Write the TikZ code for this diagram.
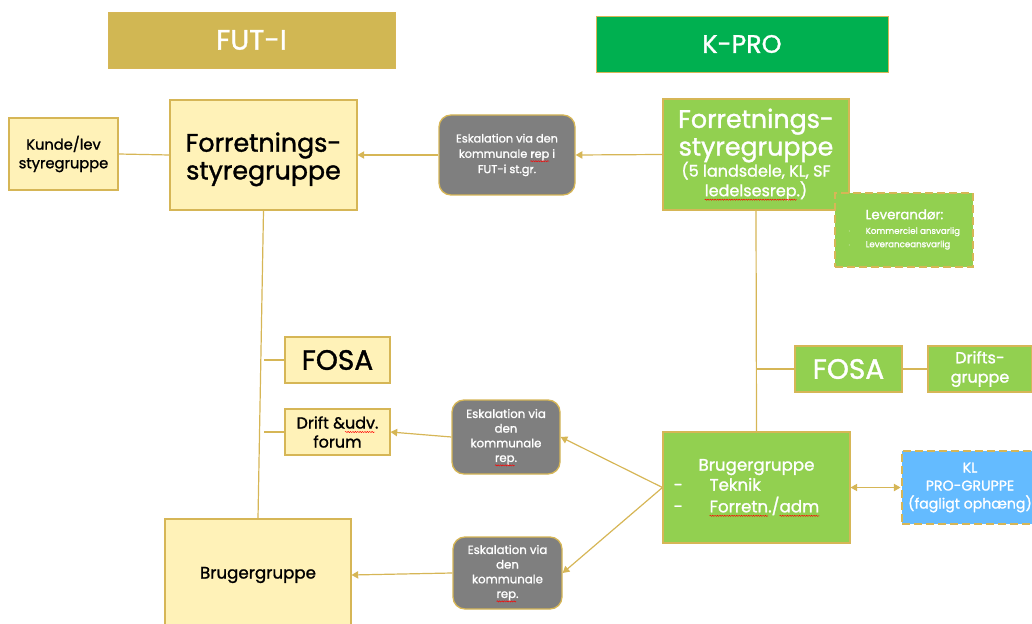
\documentclass[tikz,border=0pt]{standalone}
\usepackage{fontspec}
\setmainfont{Poppins}[FakeBold=1.3]
\usetikzlibrary{arrows.meta,decorations.pathmorphing}
\definecolor{gold}{HTML}{D6B656}
\definecolor{headgold}{HTML}{D1B753}
\definecolor{kgreen}{HTML}{00B050}
\definecolor{lgreen}{HTML}{92D050}
\definecolor{lyellow}{HTML}{FFF2B8}
\definecolor{egray}{HTML}{7F7F7F}
\definecolor{lblue}{HTML}{64BBFF}
\newsavebox\spellbox
\newcommand\spell[1]{\sbox\spellbox{#1}\usebox\spellbox\tikz[overlay,baseline=0pt]\draw[red, sharp corners, solid, line width=0.35pt, decorate, decoration={snake, amplitude=0.45pt, segment length=1.8pt}] (-\wd\spellbox,-2.6pt) -- (0pt,-2.6pt);}
\newcommand\fs[2]{\fontsize{#1}{#2}\selectfont}
\tikzset{
  box/.style={draw=gold, line width=0.8pt, inner sep=0pt, align=center},
  ybox/.style={box, fill=lyellow, text=black},
  gbox/.style={box, fill=lgreen, text=white},
  ebox/.style={box, fill=egray, text=white, rounded corners=9pt, line width=1pt},
  dbox/.style={box, draw=gold, dashed, dash pattern=on 6pt off 3pt, line width=2.2pt, text=white},
  head/.style={inner sep=0pt, draw=gold, line width=0.6pt, text=white},
  conn/.style={draw=gold, line width=0.9pt},
  arr/.style={conn, -{Triangle[width=5.5pt,length=5pt]}},
}
\begin{document}
\begin{tikzpicture}[x=0.75pt,y=-0.75pt]
\useasboundingbox (0,0) rectangle (1032,624);
% headers
\node[head, fill=headgold, minimum width=215.25pt, minimum height=42pt, font=\fs{21}{25}] (futi) at (251.5,40) {FUT-I};
\node[head, fill=kgreen, minimum width=219pt, minimum height=42pt, font=\fs{19}{23}] (kpro) at (742,44) {K-PRO};
% left column
\node[ybox, minimum width=81.75pt, minimum height=54pt, font=\fs{11}{14}] (kunde) at (63.5,154) {Kunde/lev\\styregruppe};
\node[ybox, minimum width=140.25pt, minimum height=82.5pt, font=\fs{19}{21.75}] (fsL) at (263.5,155) {\rule{0pt}{21pt}Forretnings-\\[-1pt]styregruppe};
\node[ybox, minimum width=78.75pt, minimum height=34.5pt, font=\fs{21}{25}] (fosaL) at (337.5,360) {FOSA};
\node[ybox, minimum width=78.75pt, minimum height=34.5pt, font=\fs{12}{14.25}] (drift) at (337.5,432) {Drift \&\spell{udv}.\\forum};
\node[ybox, minimum width=139.5pt, minimum height=84pt, font=\fs{12.5}{15}] (bgL) at (258,575) {Brugergruppe};
% escalation boxes
\node[ebox, minimum width=102pt, minimum height=60pt, font=\fs{8.5}{11.5}] (esk1) at (507,155) {Eskalation via den\\kommunale \spell{rep} i\\FUT-i st.gr.};
\node[ebox, minimum width=81pt, minimum height=55.5pt, font=\fs{8.8}{11}] (esk2) at (506,437) {Eskalation via\\den\\kommunale\\\spell{rep}.};
\node[ebox, minimum width=81.75pt, minimum height=54pt, font=\fs{8.8}{11}] (esk3) at (507.5,573) {Eskalation via\\den\\kommunale\\\spell{rep}.};
% right column
\node[gbox, minimum width=139.5pt, minimum height=83.25pt, font=\fs{19}{21.75}] (fsR) at (756,154.5) {Forretnings-\\[-1pt]styregruppe\\[-6pt]{\fs{12}{14.25}(5 landsdele, KL, SF}\\[-7pt]{\fs{12}{14.25}\spell{ledelsesrep}.)}};
\node[dbox, fill=lgreen, minimum width=103.5pt, minimum height=55.5pt] (lev) at (904,230) {\begin{tabular}{@{}l@{\hspace{11pt}}l@{}}
  & \fs{10}{11}Leverandør:\\[-1pt]
  \fs{6.5}{8}$\cdot$ & \fs{6.5}{8}Kommerciel ansvarlig\\[-2pt]
  \fs{6.5}{8}$\cdot$ & \fs{6.5}{8}Leveranceansvarlig
\end{tabular}};
\node[gbox, minimum width=80.25pt, minimum height=34.5pt, font=\fs{21}{25}] (fosaR) at (848.5,369) {FOSA};
\node[gbox, minimum width=78pt, minimum height=34.5pt, font=\fs{12}{14.5}] (drifts) at (980,369) {Drifts-\\gruppe};
\node[gbox, minimum width=140.25pt, minimum height=83.25pt, font=\fs{12.5}{15}] (bgR) at (756.5,487.5) {\begin{tabular}{@{}l@{\hspace{20pt}}l@{}}
  \multicolumn{2}{c}{Brugergruppe}\\
  - & Teknik\\
  - & \spell{Forretn}./\spell{adm}\hspace*{15pt}
\end{tabular}};
\node[dbox, fill=lblue, minimum width=102pt, minimum height=54.75pt, font=\fs{10.6}{13.5}] (kl) at (970,487.5) {KL\\PRO-GRUPPE\\(fagligt ophæng)};
% connectors
\draw[conn] (kunde.east) -- (fsL.west);
\draw[arr] (fsR.west) -- (esk1.east);
\draw[arr] (esk1.west) -- (fsL.east);
\draw[conn] (fsL.south) -- (bgL.north);
\draw[conn] (fosaL.west) -- (fosaL.west -| fsL.south);
\draw[conn] (drift.west) -- (drift.west -| fsL.south);
\draw[conn] (fsR.south) -- (bgR.north);
\draw[conn] (fosaR.west) -- (fosaR.west -| fsR.south);
\draw[conn] (fosaR.east) -- (drifts.west);
\draw[arr] (bgR.west) -- (esk2.east);
\draw[arr] (bgR.west) -- (esk3.east);
\draw[arr] (esk2.west) -- (drift.east);
\draw[arr] (esk3.west) -- (bgL.east);
\draw[conn, {Triangle[width=5.5pt,length=5pt]}-{Triangle[width=5.5pt,length=5pt]}] (bgR.east) -- (kl.west);
\end{tikzpicture}
\end{document}
